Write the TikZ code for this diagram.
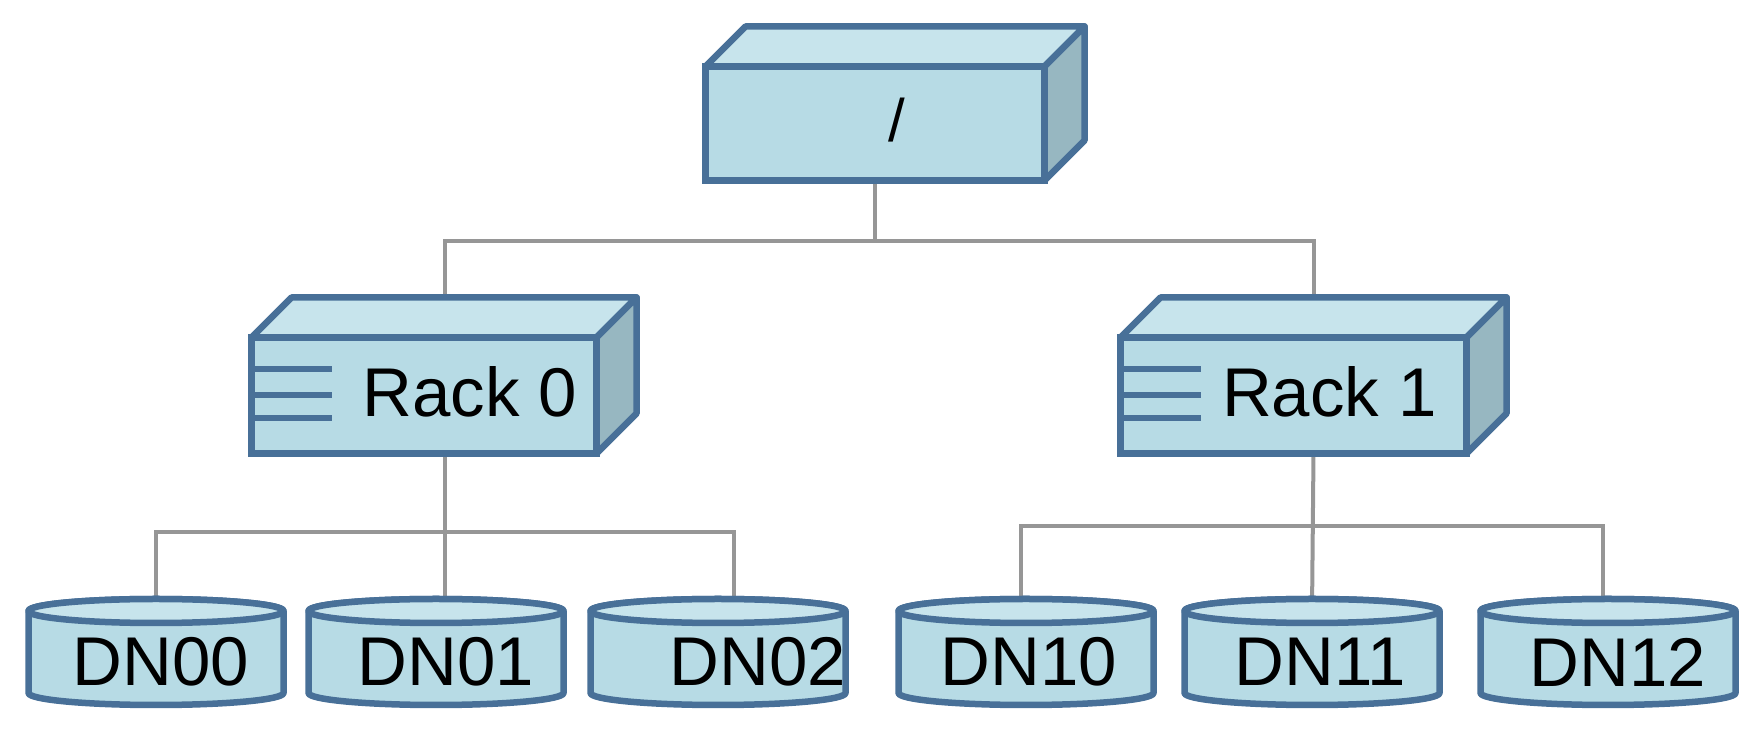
\documentclass[tikz,border=0pt]{standalone}
\usepackage{fontspec}
\setmainfont{Liberation Sans}
\usepackage{xcolor}
\usepackage{tikz}
\usetikzlibrary{backgrounds}
\definecolor{boxblue}{RGB}{183,219,229}
\definecolor{boxtop}{RGB}{199,228,236}
\definecolor{boxside}{RGB}{151,183,193}
\definecolor{boxline}{RGB}{72,112,152}
\definecolor{wire}{RGB}{150,150,150}
\tikzstyle{rackbox}=[rectangle,draw=boxline,fill=boxblue,line width=6.5pt,inner sep=0pt,outer sep=0pt]
\tikzstyle{disk}=[rectangle,inner sep=0pt,outer sep=0pt,minimum width=255pt,minimum height=82pt]
\tikzstyle{face}=[draw=boxline,line width=6.5pt,line join=round]
\tikzstyle{stripe}=[draw=boxline,line width=6pt]
\tikzstyle{link} = [draw,wire,line width=4pt]
\tikzset{bigtext/.style={font=\fontsize{69}{80}\selectfont,inner sep=0pt}}

\begin{document}
\begin{tikzpicture}[x=1pt,y=1pt]

   \useasboundingbox (0,0) rectangle (1756,730);

   % the three boxes, front faces
   \node[rackbox, minimum width=339pt, minimum height=114pt] (root) at (875,606.5) {};
   \node[rackbox, minimum width=345pt, minimum height=116pt] (rack0) at (424,334.5) {};
   \node[rackbox, minimum width=346pt, minimum height=116pt] (rack1) at (1293.5,334.5) {};

   \foreach \name in {root,rack0,rack1} {
     \filldraw[face, fill=boxtop] (\name.north west) -- ++(40,40) -- ([shift={(40,40)}]\name.north east) -- (\name.north east) -- cycle;
     \filldraw[face, fill=boxside] (\name.north east) -- ++(40,40) -- ([shift={(40,40)}]\name.south east) -- (\name.south east) -- cycle;
   }

   \foreach \name in {rack0,rack1}
     \foreach \s in {26,0,-23}
       \draw[stripe] ([yshift=\s pt]\name.west) -- ++(80,0);

   \node[bigtext, font=\fontsize{60}{70}\selectfont] at ([xshift=22pt, yshift=3.5pt]root.center) {/};
   \node[bigtext] at ([xshift=46pt, yshift=3.5pt]rack0.center) {Rack 0};
   \node[bigtext] at ([xshift=36pt, yshift=3.5pt]rack1.center) {Rack 1};

   % data nodes
   \foreach \x/\name/\label/\dx in {156/dn00/DN00/5, 436/dn01/DN01/10, 718/dn02/DN02/40, 1026/dn10/DN10/3, 1312/dn11/DN11/8, 1608/dn12/DN12/10} {
     \node[disk] (\name) at (\x,78) {};
     \filldraw[face, fill=boxblue] (\name.north west) -- (\name.south west) arc[start angle=180, end angle=360, x radius=127.5, y radius=12] -- (\name.north east) arc[start angle=0, end angle=180, x radius=127.5, y radius=12] -- cycle;
     \filldraw[face, fill=boxtop] (\name.north) ellipse[x radius=127.5, y radius=12];
     \node[bigtext] at ([xshift=\dx pt, yshift=-10pt]\name.center) {\label};
   }

   \coordinate (hub) at (875,489);
   \coordinate (bus0r) at (734,198);
   \coordinate (bus1l) at (1021,204);
   \coordinate (bus1r) at (1603,204);

   \begin{pgfonlayer}{background}
     \path[link] (root.south) -- (hub);
     \path[link] (hub) -| ([xshift=21pt]rack0.north);
     \path[link] (hub) -| ([xshift=20pt]rack1.north);
     \path[link] ([xshift=21pt]rack0.south) -- ([xshift=21pt]rack0.south |- dn01.north);
     \path[link] (dn00.north) |- (bus0r) -- (bus0r |- dn02.north);
     \path[link] ([xshift=20pt]rack1.south) -- (dn11.north);
     \path[link] (bus1l |- dn10.north) -- (bus1l) -- (bus1r) -- (bus1r |- dn12.north);
   \end{pgfonlayer}

\end{tikzpicture}
\end{document}
